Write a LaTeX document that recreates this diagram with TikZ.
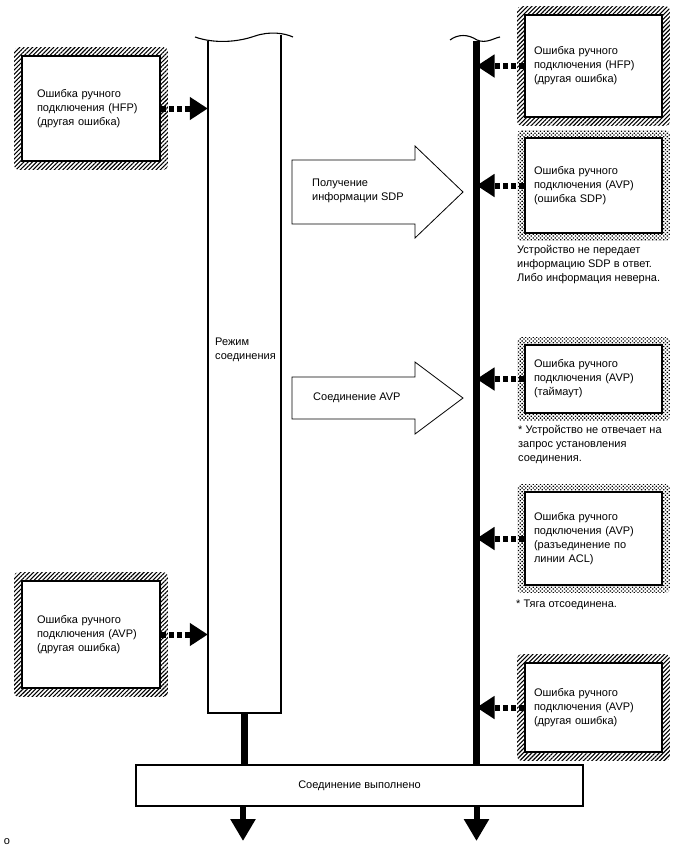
\documentclass[tikz,border=0pt]{standalone}
\usepackage{fontspec}
\setmainfont{Liberation Sans}
\usetikzlibrary{arrows.meta,patterns,patterns.meta,backgrounds,calc}
\begin{document}
\begin{tikzpicture}[x=1pt,y=-1pt,
  font=\fontsize{11}{14}\selectfont,
  lbox/.style={draw, line width=1.6pt, fill=white, minimum width=138pt, text width=108pt, inner xsep=15pt, align=left},
  rbox/.style={draw, line width=1.6pt, fill=white, minimum width=137pt, text width=119pt, inner xsep=9pt, align=left},
  note/.style={anchor=north west, inner sep=0pt, align=left},
  dasharrow/.style={line width=6pt, dash pattern=on 5pt off 3pt, -{Triangle[length=18pt,width=22pt]}},
  thickline/.style={line width=6.5pt},
  downarrow/.style={line width=6pt, -{Triangle[length=22pt,width=24pt]}},
  hollow/.style={draw, line width=0.8pt, fill=white},
  frame/.style={draw, line width=1.4pt},
  hatchbg/.style={pattern={Lines[angle=45,distance=3pt,line width=1.1pt]}, rounded corners=4pt},
  dotbg/.style={pattern={Dots[radius=0.9pt,distance=2.6pt,angle=45]}, rounded corners=4pt},
]
\useasboundingbox (0,0) rectangle (688,852);

% mode box
\node[minimum width=73pt, minimum height=673pt, inner sep=0pt] (mode) at (244.5,376.5) {};
\draw[line width=1.3pt] (208,40.5) -- (208,713) -- (281,713) -- (281,35);
\draw[line width=1.1pt] (195,37) .. controls (215,44) and (238,42) .. (255,36) .. controls (270,31) and (284,33) .. (293,37);
\node[anchor=west, align=left, inner sep=0pt] (modelabel) at (215,350) {Режим\\соединения};

% right line
\coordinate (rtop) at (476.5,41);
\draw[line width=1.1pt] (450,40) .. controls (458,34) and (468,34) .. (477,40) .. controls (486,44) and (494,38) .. (500,37);

% done box
\node[frame, minimum width=447pt, minimum height=41pt, fill=white] (done) at (359.5,785.5) {Соединение выполнено};

\draw[thickline] (mode.south) -- (done.north -| mode.south);
\draw[thickline] (rtop) -- (done.north -| rtop);

\coordinate (e1) at (243,841);
\coordinate (e2) at (476.5,841);
\draw[downarrow] (done.south -| e1) -- (e1);
\draw[downarrow] (done.south -| e2) -- (e2);

% left boxes
\node[lbox, minimum height=105pt] (L1) at (91,108.5) {Ошибка ручного\\подключения (HFP)\\(другая ошибка)};
\node[lbox, minimum height=107pt] (L2) at (91,634.5) {Ошибка ручного\\подключения (AVP)\\(другая ошибка)};

% right boxes
\node[rbox, minimum height=102pt] (R1) at (593.5,66) {Ошибка ручного\\подключения (HFP)\\(другая ошибка)};
\node[rbox, minimum height=95pt] (R2) at (593.5,185.5) {Ошибка ручного\\подключения (AVP)\\(ошибка SDP)};
\node[rbox, minimum height=68pt] (R3) at (593.5,379) {Ошибка ручного\\подключения (AVP)\\(таймаут)};
\node[rbox, minimum height=93pt] (R4) at (593.5,538.5) {Ошибка ручного\\подключения (AVP)\\(разъединение по\\линии ACL)};
\node[rbox, minimum height=89pt] (R5) at (593.5,707.5) {Ошибка ручного\\подключения (AVP)\\(другая ошибка)};

\begin{pgfonlayer}{background}
\foreach \n in {L1,L2,R1,R5}
  \path[hatchbg] ($(\n.north west)+(-7,-8)$) rectangle ($(\n.south east)+(7,8)$);
\foreach \n in {R2,R3,R4}
  \path[dotbg] ($(\n.north west)+(-7,-7)$) rectangle ($(\n.south east)+(7,7)$);
\end{pgfonlayer}

% notes
\node[note] (n2) at (517,245) {Устройство не передает\\информацию SDP в ответ.\\Либо информация неверна.};
\node[note] (n3) at (518,425) {* Устройство не отвечает на\\запрос установления\\соединения.};
\node[note] (n4) at (516,600) {* Тяга отсоединена.};

% connectors
\draw[dasharrow] (L1.east) -- (L1.east -| mode.west);
\draw[dasharrow] (L2.east) -- (L2.east -| mode.west);
\foreach \n in {R1,R2,R3,R4,R5}
  \draw[dasharrow] (\n.west) -- (\n.west -| rtop);

% hollow arrows
\draw[hollow] (292,160) -- (415,160) -- (415,146) -- (463,192) -- (415,238) -- (415,224) -- (292,224) -- cycle;
\node[anchor=west, align=left, inner sep=0pt] (sdp) at (312,191) {Получение\\информации SDP};
\draw[hollow] (292,377) -- (415,377) -- (415,362) -- (463,398) -- (415,434) -- (415,419) -- (292,419) -- cycle;
\node[anchor=west, inner sep=0pt] (avp) at (313,398) {Соединение AVP};

\node[inner sep=0pt] (o) at (7,842) {o};
\end{tikzpicture}
\end{document}
